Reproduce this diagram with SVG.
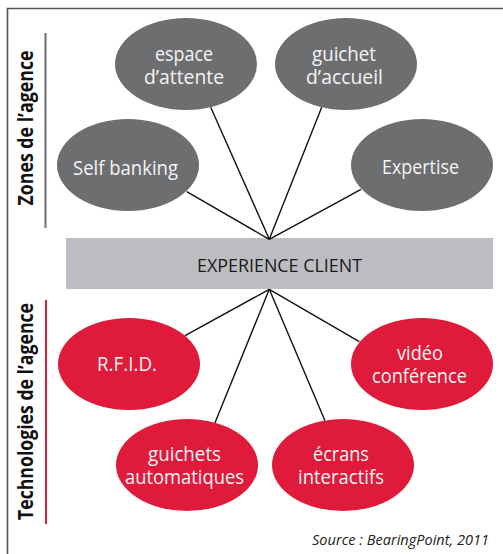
<svg xmlns="http://www.w3.org/2000/svg" width="503" height="554" viewBox="0 0 503 554">
<style>
.zone{fill:#6d6e70}
.tech{fill:#e01a3b}
.lbl{font-family:"Open Sans","Noto Sans",sans-serif;font-size:19.5px;fill:#f4f4f4;text-anchor:middle}
.side{font-family:"Open Sans","Noto Sans",sans-serif;font-size:21px;font-weight:bold;fill:#111;text-anchor:middle}
.conn line{stroke:#111;stroke-width:1.4}
</style>
<rect width="503" height="554" fill="#fff"/>
<path d="M7.5 554 V8.5 H503" fill="none" stroke="#555" stroke-width="1.6"/>
<line x1="45.5" y1="33" x2="45.5" y2="228" stroke="#6d6e70" stroke-width="2"/>
<line x1="46" y1="300" x2="46" y2="524" stroke="#e01a3b" stroke-width="2"/>
<text class="side" transform="translate(33,128) rotate(-90)" textLength="155" lengthAdjust="spacingAndGlyphs">Zones de l’agence</text>
<text class="side" transform="translate(33,411.5) rotate(-90)" textLength="217" lengthAdjust="spacingAndGlyphs">Technologies de l’agence</text>

<g id="experience">
<rect x="66" y="238" width="427" height="51" fill="#bcbdc0"/>
<text x="279.5" y="272" font-family="Open Sans, Noto Sans, sans-serif" font-size="18.5" fill="#1a1a1a" text-anchor="middle" textLength="165" lengthAdjust="spacingAndGlyphs">EXPERIENCE CLIENT</text>
</g>

<g class="conn" id="connectors">
<line x1="269.3" y1="239.3" x2="186.7" y2="191.7"/>
<line x1="269.3" y1="239.3" x2="210.7" y2="107.3"/>
<line x1="269.3" y1="239.3" x2="321.7" y2="107.3"/>
<line x1="269.3" y1="239.3" x2="361" y2="189.3"/>
<line x1="269.3" y1="289.3" x2="185" y2="335.7"/>
<line x1="269.3" y1="289.3" x2="215" y2="422.7"/>
<line x1="269.3" y1="289.3" x2="325" y2="420.7"/>
<line x1="269.3" y1="289.3" x2="359.3" y2="341.7"/>
</g>

<g id="espace">
<ellipse class="zone" cx="186" cy="64" rx="71" ry="46"/>
<text class="lbl" x="184" y="61" textLength="58" lengthAdjust="spacingAndGlyphs">espace</text>
<text class="lbl" x="184" y="84" textLength="80" lengthAdjust="spacingAndGlyphs">d’attente</text>
</g>
<g id="guichet">
<ellipse class="zone" cx="346" cy="64" rx="71" ry="46"/>
<text class="lbl" x="344" y="61" textLength="64" lengthAdjust="spacingAndGlyphs">guichet</text>
<text class="lbl" x="344.5" y="84" textLength="77" lengthAdjust="spacingAndGlyphs">d’accueil</text>
</g>
<g id="selfbanking">
<ellipse class="zone" cx="128" cy="165" rx="71" ry="46"/>
<text class="lbl" x="125.5" y="175" textLength="105" lengthAdjust="spacingAndGlyphs">Self banking</text>
</g>
<g id="expertise">
<ellipse class="zone" cx="422" cy="165" rx="71" ry="46"/>
<text class="lbl" x="420.5" y="174" textLength="77" lengthAdjust="spacingAndGlyphs">Expertise</text>
</g>

<g id="rfid">
<ellipse class="tech" cx="129" cy="364" rx="71" ry="46"/>
<text class="lbl" x="127" y="371" textLength="60" lengthAdjust="spacingAndGlyphs">R.F.I.D.</text>
</g>
<g id="video">
<ellipse class="tech" cx="422" cy="364" rx="71" ry="46"/>
<text class="lbl" x="420" y="360" textLength="46" lengthAdjust="spacingAndGlyphs">vidéo</text>
<text class="lbl" x="419.5" y="383" textLength="95" lengthAdjust="spacingAndGlyphs">conférence</text>
</g>
<g id="guichets">
<ellipse class="tech" cx="187" cy="465" rx="71" ry="46"/>
<text class="lbl" x="184.5" y="461" textLength="73" lengthAdjust="spacingAndGlyphs">guichets</text>
<text class="lbl" x="184.5" y="484" textLength="119" lengthAdjust="spacingAndGlyphs">automatiques</text>
</g>
<g id="ecrans">
<ellipse class="tech" cx="343" cy="465" rx="71" ry="46"/>
<text class="lbl" x="341" y="461" textLength="56" lengthAdjust="spacingAndGlyphs">écrans</text>
<text class="lbl" x="341" y="484" textLength="86" lengthAdjust="spacingAndGlyphs">interactifs</text>
</g>

<text x="489" y="545" font-family="Open Sans, Noto Sans, sans-serif" font-size="14" font-style="italic" fill="#222" text-anchor="end" textLength="177" lengthAdjust="spacingAndGlyphs">Source : BearingPoint, 2011</text>
</svg>
